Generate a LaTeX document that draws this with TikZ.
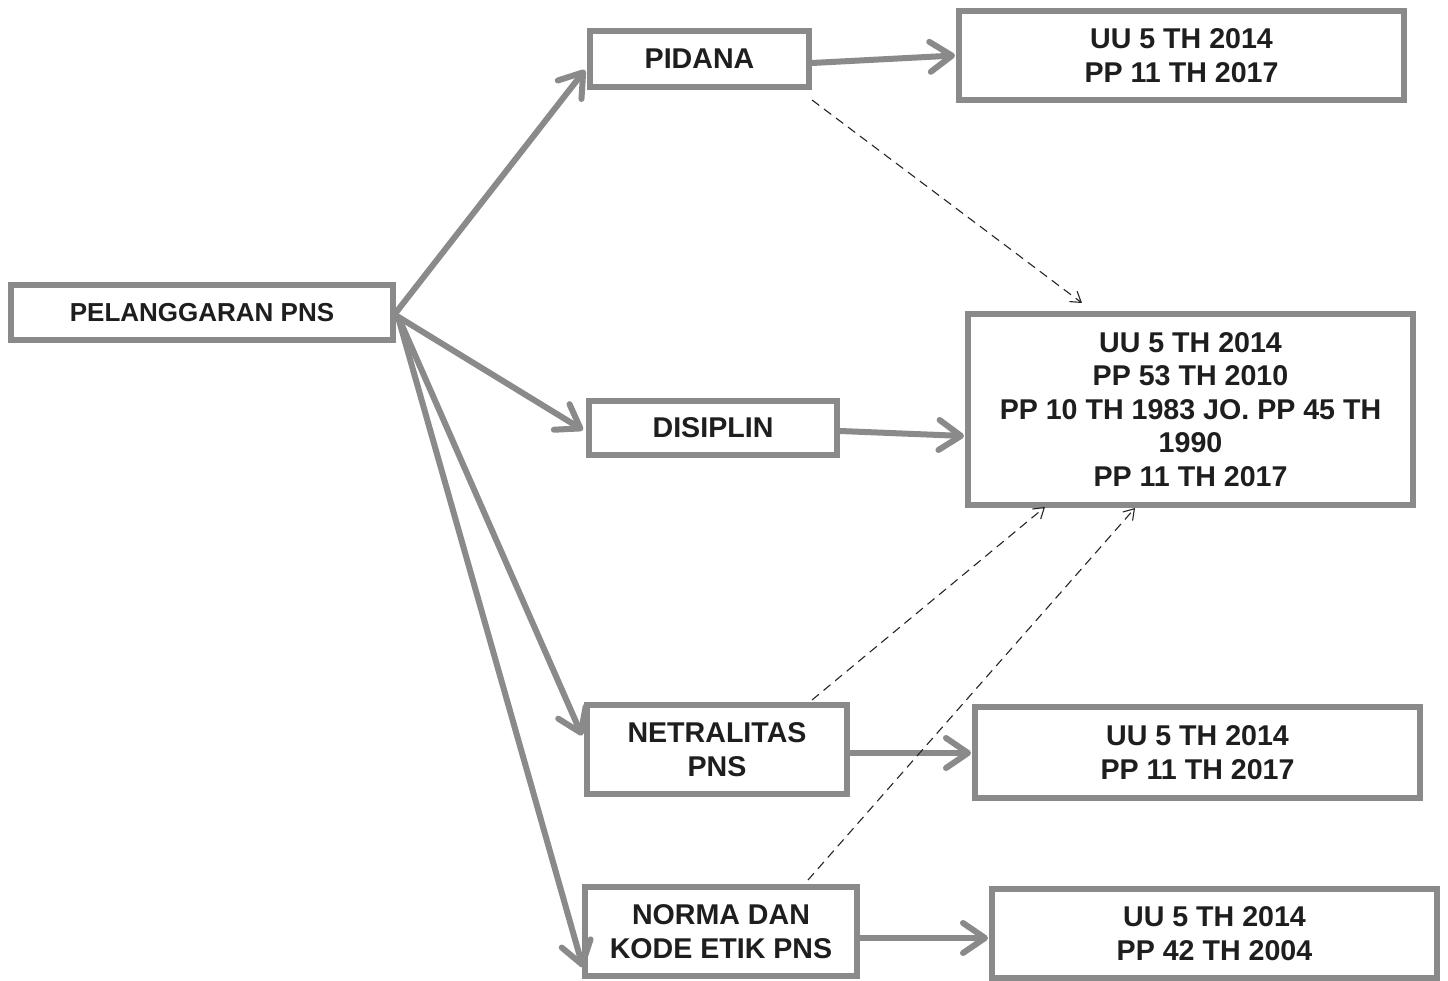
\documentclass[tikz,border=0pt]{standalone}
\usepackage{fontspec}
\setmainfont{Liberation Sans}
\usetikzlibrary{arrows.meta,calc}
\definecolor{boxgray}{HTML}{8A8A8A}
\definecolor{txt}{HTML}{1E1E1E}
\tikzset{
  box/.style={draw=boxgray, line width=6pt, fill=white, align=center, inner sep=0pt,
    text=txt, font=\fontsize{28.6}{33.6}\selectfont\bfseries},
  thick arrow/.style={draw=boxgray, line width=6pt, line cap=round,
    -{Straight Barb[length=22pt,width=30pt,round]}},
  dash arrow/.style={draw=black!85, line width=1.1pt, dash pattern=on 9pt off 6pt,
    -{Straight Barb[length=10pt,width=13pt]}}
}
\begin{document}
\begin{tikzpicture}[x=1pt,y=-1pt]
\useasboundingbox (0,0) rectangle (1448,981);
\fill[white] (0,0) rectangle (1448,981);
% nodes
\node[box, font=\fontsize{26}{31}\selectfont\bfseries, minimum width=382pt, minimum height=55pt] (pel) at (202,312.5) {PELANGGARAN PNS};
\node[box, minimum width=219pt, minimum height=56pt] (pid) at (699.5,59) {PIDANA};
\node[box, minimum width=445pt, minimum height=89pt] (r1) at (1181.5,55.5) {UU 5 TH 2014\\PP 11 TH 2017};
\node[box, minimum width=248pt, minimum height=54pt] (dis) at (713,428) {DISIPLIN};
\node[box, minimum width=445pt, minimum height=191pt] (r2) at (1190.5,409.5) {UU 5 TH 2014\\PP 53 TH 2010\\PP 10 TH 1983 JO. PP 45 TH\\1990\\PP 11 TH 2017};
\node[box, minimum width=260pt, minimum height=89pt] (net) at (717,749.5) {NETRALITAS\\PNS};
\node[box, minimum width=445pt, minimum height=91pt] (r3) at (1197.5,752.5) {UU 5 TH 2014\\PP 11 TH 2017};
\node[box, minimum width=272pt, minimum height=89pt] (nor) at (721,931.5) {NORMA DAN\\KODE ETIK PNS};
\node[box, minimum width=445pt, minimum height=89pt] (r4) at (1214.5,933.5) {UU 5 TH 2014\\PP 42 TH 2004};
% thick arrows from PELANGGARAN
\draw[thick arrow] (pel.east) -- ($(pid.west)+(-2,11)$);
\draw[thick arrow] ($(pel.east)+(0,3)$) -- ($(dis.west)+(-3,2)$);
\draw[thick arrow] ($(pel.east)+(3,6)$) -- ($(net.west)+(-2,-14)$);
\draw[thick arrow] ($(pel.east)+(3,8)$) -- ($(nor.west)+(1,36)$);
% thick arrows to right boxes
\draw[thick arrow] ($(pid.east)+(0,4)$) -- ($(r1.west)+(-1,0)$);
\draw[thick arrow] ($(dis.east)+(0,3)$) -- ($(r2.west)+(-1,26.5)$);
\draw[thick arrow] ($(net.east)+(0,3.5)$) -- ($(r3.west)+(-1,0.5)$);
\draw[thick arrow] ($(nor.east)+(0,6.5)$) -- ($(r4.west)+(-1,4.5)$);
% dashed arrows
\draw[dash arrow] ($(pid.south east)+(0,10)$) -- ($(r2.north)+(-108.5,-8)$);
\draw[dash arrow] ($(net.north)+(95,-2)$) -- ($(r2.south)+(-145.5,-1)$);
\draw[dash arrow] ($(nor.north)+(87,-4)$) -- ($(r2.south)+(-55.5,0)$);
\end{tikzpicture}
\end{document}
